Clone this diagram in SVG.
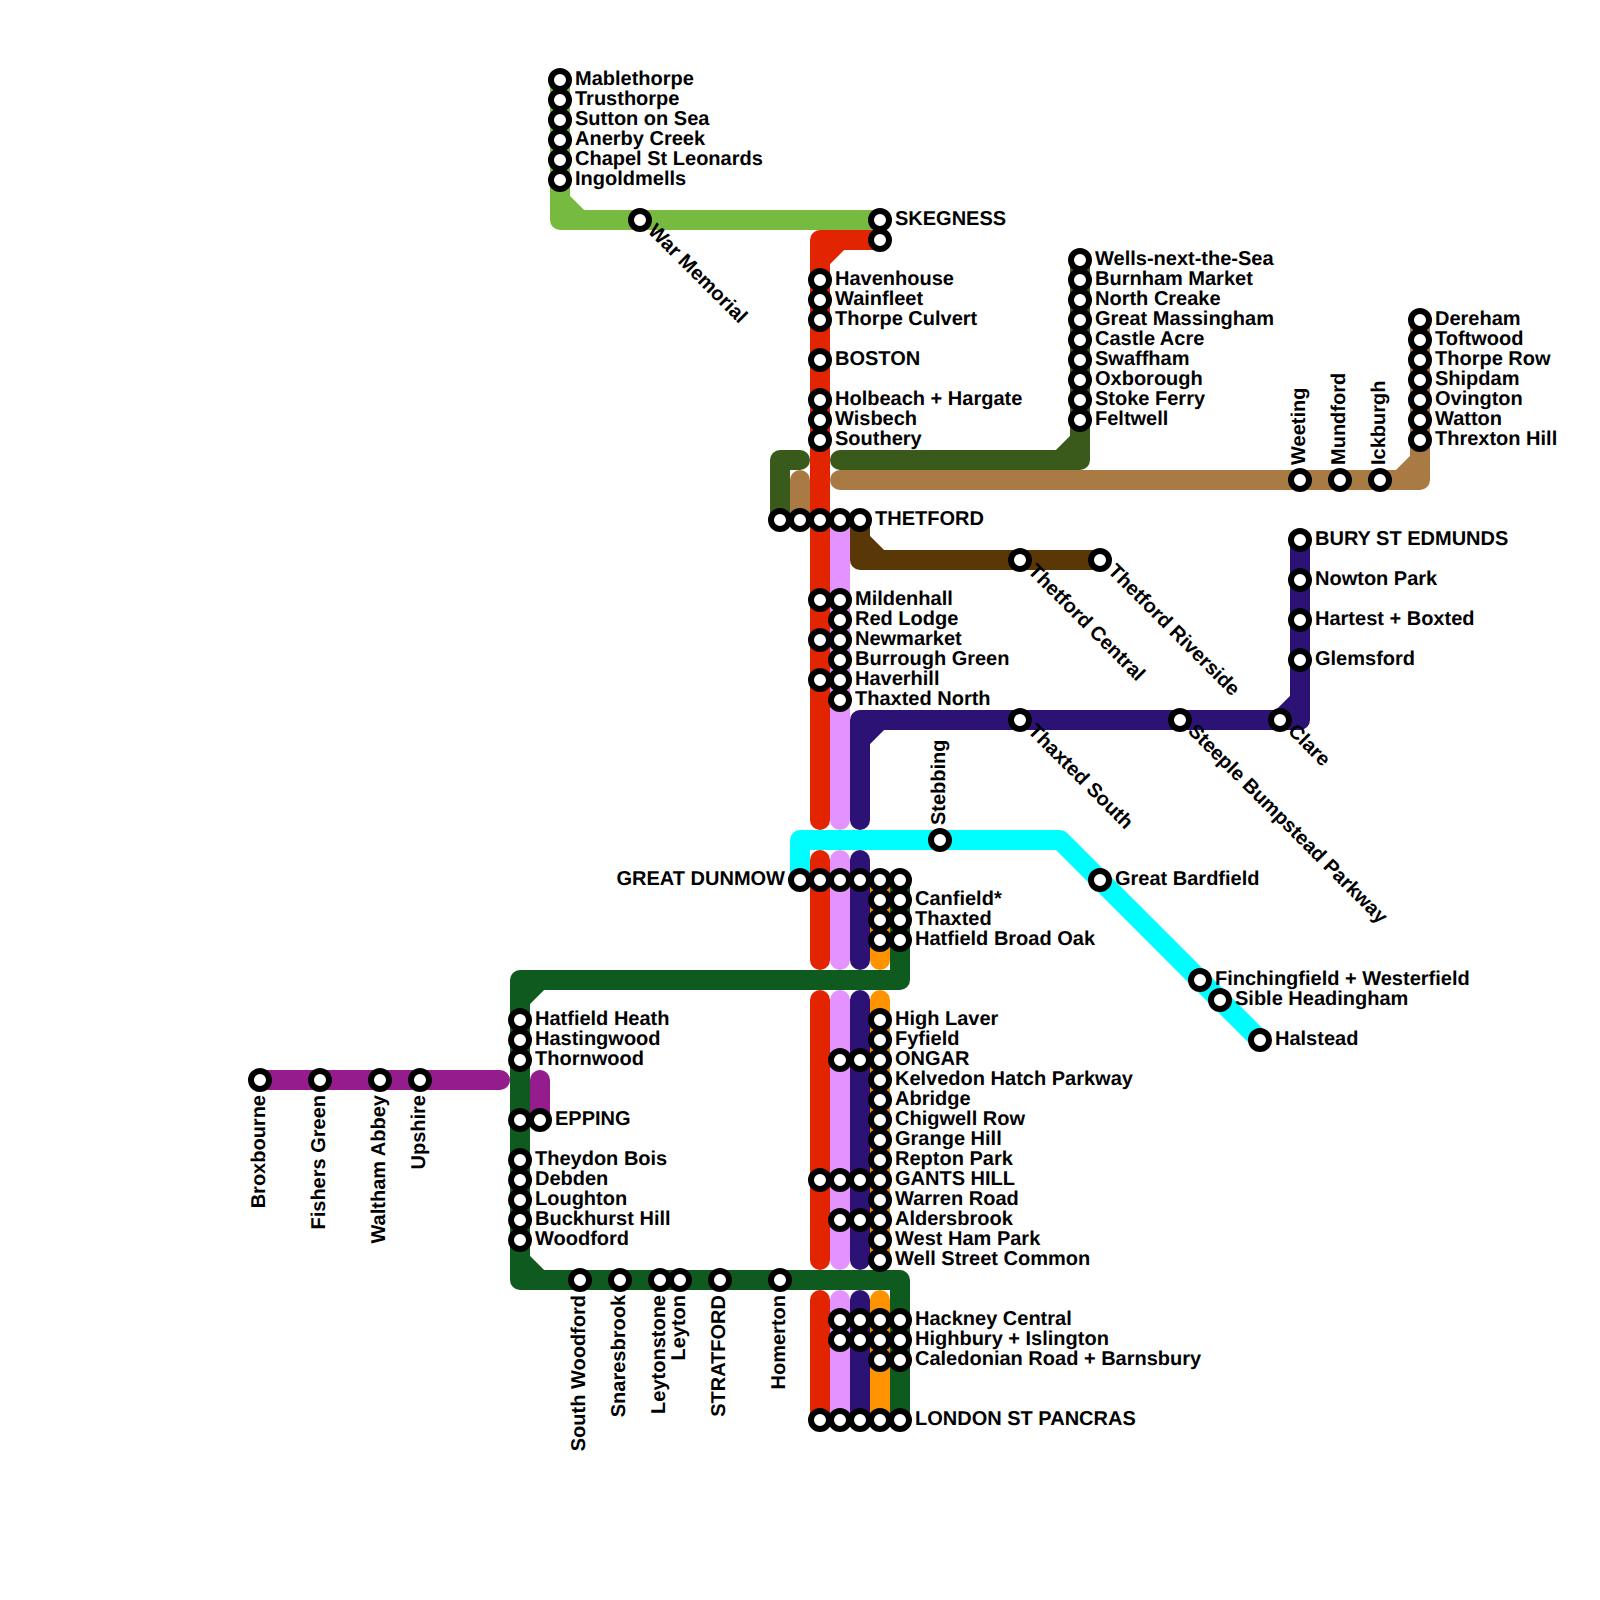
<svg xmlns="http://www.w3.org/2000/svg" width="1600" height="1600" viewBox="0 0 1600 1600">
<style>
.l{fill:none;stroke-width:20;stroke-linecap:round;stroke-linejoin:round}
.s{fill:#fff;stroke:#000;stroke-width:6}
text{font-family:"Liberation Sans",Arial,sans-serif;font-weight:700;font-size:20px;fill:#000;text-rendering:geometricPrecision}
.e{text-anchor:end}
</style>
<rect width="1600" height="1600" fill="#fff"/>
<g id="connectors">
<path class="l" stroke="#76bb40" d="M560 80V220H880M560 200L580 220"/>
<path class="l" stroke="#3a5a1c" d="M1080 260V460H840M1080 440L1060 460"/>
<path class="l" stroke="#3a5a1c" d="M780 520V460H800"/>
<path class="l" stroke="#a97a44" d="M840 480H1420V320M1420 460L1400 480"/>
<path class="l" stroke="#a97a44" d="M800 520V480"/>
<path class="l" stroke="#5a3706" d="M860 520V560H1100M860 540L880 560"/>
<path class="l" stroke="#e392fe" d="M840 520V820M840 860V960M840 1000V1260M840 1300V1420"/>
<path class="l" stroke="#e32400" d="M880 240H820V820M820 260L840 240M820 860V960M820 1000V1260M820 1300V1420"/>
<path class="l" stroke="#2c1275" d="M1300 540V720H860V820M1300 700L1280 720M860 740L880 720M860 860V960M860 1000V1260M860 1300V1420"/>
<path class="l" stroke="#ff9300" d="M880 880V960M880 1000V1260M880 1300V1420"/>
<path class="l" stroke="#0f5a1f" d="M900 880V980H520V1280H900V1420M520 1000L540 980M520 1260L540 1280"/>
<path class="l" stroke="#941c8d" d="M260 1080H500M540 1080V1120"/>
<path class="l" stroke="#00fdff" d="M800 880V840H1060L1260 1040"/>
</g>
<g id="nodes">
<g id="n1"><circle class="s" cx="560" cy="80" r="9"/><text x="575" y="85">Mablethorpe</text></g>
<g id="n2"><circle class="s" cx="560" cy="100" r="9"/><text x="575" y="105">Trusthorpe</text></g>
<g id="n3"><circle class="s" cx="560" cy="120" r="9"/><text x="575" y="125">Sutton on Sea</text></g>
<g id="n4"><circle class="s" cx="560" cy="140" r="9"/><text x="575" y="145">Anerby Creek</text></g>
<g id="n5"><circle class="s" cx="560" cy="160" r="9"/><text x="575" y="165">Chapel St Leonards</text></g>
<g id="n6"><circle class="s" cx="560" cy="180" r="9"/><text x="575" y="185">Ingoldmells</text></g>
<g id="n7"><circle class="s" cx="640" cy="220" r="9"/><text transform="translate(647 232) rotate(45)">War Memorial</text></g>
<g id="n8"><circle class="s" cx="880" cy="220" r="9"/><text x="895" y="225">SKEGNESS</text></g>
<g id="n9"><circle class="s" cx="880" cy="240" r="9"/></g>
<g id="n10"><circle class="s" cx="820" cy="280" r="9"/><text x="835" y="285">Havenhouse</text></g>
<g id="n11"><circle class="s" cx="820" cy="300" r="9"/><text x="835" y="305">Wainfleet</text></g>
<g id="n12"><circle class="s" cx="820" cy="320" r="9"/><text x="835" y="325">Thorpe Culvert</text></g>
<g id="n13"><circle class="s" cx="820" cy="360" r="9"/><text x="835" y="365">BOSTON</text></g>
<g id="n14"><circle class="s" cx="820" cy="400" r="9"/><text x="835" y="405">Holbeach + Hargate</text></g>
<g id="n15"><circle class="s" cx="820" cy="420" r="9"/><text x="835" y="425">Wisbech</text></g>
<g id="n16"><circle class="s" cx="820" cy="440" r="9"/><text x="835" y="445">Southery</text></g>
<g id="n17"><circle class="s" cx="1080" cy="260" r="9"/><text x="1095" y="265">Wells-next-the-Sea</text></g>
<g id="n18"><circle class="s" cx="1080" cy="280" r="9"/><text x="1095" y="285">Burnham Market</text></g>
<g id="n19"><circle class="s" cx="1080" cy="300" r="9"/><text x="1095" y="305">North Creake</text></g>
<g id="n20"><circle class="s" cx="1080" cy="320" r="9"/><text x="1095" y="325">Great Massingham</text></g>
<g id="n21"><circle class="s" cx="1080" cy="340" r="9"/><text x="1095" y="345">Castle Acre</text></g>
<g id="n22"><circle class="s" cx="1080" cy="360" r="9"/><text x="1095" y="365">Swaffham</text></g>
<g id="n23"><circle class="s" cx="1080" cy="380" r="9"/><text x="1095" y="385">Oxborough</text></g>
<g id="n24"><circle class="s" cx="1080" cy="400" r="9"/><text x="1095" y="405">Stoke Ferry</text></g>
<g id="n25"><circle class="s" cx="1080" cy="420" r="9"/><text x="1095" y="425">Feltwell</text></g>
<g id="n26"><circle class="s" cx="1420" cy="320" r="9"/><text x="1435" y="325">Dereham</text></g>
<g id="n27"><circle class="s" cx="1420" cy="340" r="9"/><text x="1435" y="345">Toftwood</text></g>
<g id="n28"><circle class="s" cx="1420" cy="360" r="9"/><text x="1435" y="365">Thorpe Row</text></g>
<g id="n29"><circle class="s" cx="1420" cy="380" r="9"/><text x="1435" y="385">Shipdam</text></g>
<g id="n30"><circle class="s" cx="1420" cy="400" r="9"/><text x="1435" y="405">Ovington</text></g>
<g id="n31"><circle class="s" cx="1420" cy="420" r="9"/><text x="1435" y="425">Watton</text></g>
<g id="n32"><circle class="s" cx="1420" cy="440" r="9"/><text x="1435" y="445">Threxton Hill</text></g>
<g id="n33"><circle class="s" cx="1300" cy="480" r="9"/><text transform="translate(1305 465) rotate(-90)">Weeting</text></g>
<g id="n34"><circle class="s" cx="1340" cy="480" r="9"/><text transform="translate(1345 465) rotate(-90)">Mundford</text></g>
<g id="n35"><circle class="s" cx="1380" cy="480" r="9"/><text transform="translate(1385 465) rotate(-90)">Ickburgh</text></g>
<g id="n36"><circle class="s" cx="780" cy="520" r="9"/></g>
<g id="n37"><circle class="s" cx="800" cy="520" r="9"/></g>
<g id="n38"><circle class="s" cx="820" cy="520" r="9"/></g>
<g id="n39"><circle class="s" cx="840" cy="520" r="9"/></g>
<g id="n40"><circle class="s" cx="860" cy="520" r="9"/><text x="875" y="525">THETFORD</text></g>
<g id="n41"><circle class="s" cx="1020" cy="560" r="9"/><text transform="translate(1027 572) rotate(45)">Thetford Central</text></g>
<g id="n42"><circle class="s" cx="1100" cy="560" r="9"/><text transform="translate(1107 572) rotate(45)">Thetford Riverside</text></g>
<g id="n43"><circle class="s" cx="1300" cy="540" r="9"/><text x="1315" y="545">BURY ST EDMUNDS</text></g>
<g id="n44"><circle class="s" cx="1300" cy="580" r="9"/><text x="1315" y="585">Nowton Park</text></g>
<g id="n45"><circle class="s" cx="1300" cy="620" r="9"/><text x="1315" y="625">Hartest + Boxted</text></g>
<g id="n46"><circle class="s" cx="1300" cy="660" r="9"/><text x="1315" y="665">Glemsford</text></g>
<g id="n47"><circle class="s" cx="820" cy="600" r="9"/></g>
<g id="n48"><circle class="s" cx="820" cy="640" r="9"/></g>
<g id="n49"><circle class="s" cx="820" cy="680" r="9"/></g>
<g id="n50"><circle class="s" cx="840" cy="600" r="9"/><text x="855" y="605">Mildenhall</text></g>
<g id="n51"><circle class="s" cx="840" cy="620" r="9"/><text x="855" y="625">Red Lodge</text></g>
<g id="n52"><circle class="s" cx="840" cy="640" r="9"/><text x="855" y="645">Newmarket</text></g>
<g id="n53"><circle class="s" cx="840" cy="660" r="9"/><text x="855" y="665">Burrough Green</text></g>
<g id="n54"><circle class="s" cx="840" cy="680" r="9"/><text x="855" y="685">Haverhill</text></g>
<g id="n55"><circle class="s" cx="840" cy="700" r="9"/><text x="855" y="705">Thaxted North</text></g>
<g id="n56"><circle class="s" cx="1020" cy="720" r="9"/><text transform="translate(1027 732) rotate(45)">Thaxted South</text></g>
<g id="n57"><circle class="s" cx="1180" cy="720" r="9"/><text transform="translate(1187 732) rotate(45)">Steeple Bumpstead Parkway</text></g>
<g id="n58"><circle class="s" cx="1280" cy="720" r="9"/><text transform="translate(1287 732) rotate(45)">Clare</text></g>
<g id="n59"><circle class="s" cx="940" cy="840" r="9"/><text transform="translate(945 825) rotate(-90)">Stebbing</text></g>
<g id="n60"><circle class="s" cx="800" cy="880" r="9"/><text class="e" x="785" y="885">GREAT DUNMOW</text></g>
<g id="n61"><circle class="s" cx="820" cy="880" r="9"/></g>
<g id="n62"><circle class="s" cx="840" cy="880" r="9"/></g>
<g id="n63"><circle class="s" cx="860" cy="880" r="9"/></g>
<g id="n64"><circle class="s" cx="880" cy="880" r="9"/></g>
<g id="n65"><circle class="s" cx="900" cy="880" r="9"/></g>
<g id="n66"><circle class="s" cx="880" cy="900" r="9"/></g>
<g id="n67"><circle class="s" cx="900" cy="900" r="9"/><text x="915" y="905">Canfield*</text></g>
<g id="n68"><circle class="s" cx="880" cy="920" r="9"/></g>
<g id="n69"><circle class="s" cx="900" cy="920" r="9"/><text x="915" y="925">Thaxted</text></g>
<g id="n70"><circle class="s" cx="880" cy="940" r="9"/></g>
<g id="n71"><circle class="s" cx="900" cy="940" r="9"/><text x="915" y="945">Hatfield Broad Oak</text></g>
<g id="n72"><circle class="s" cx="1100" cy="880" r="9"/><text x="1115" y="885">Great Bardfield</text></g>
<g id="n73"><circle class="s" cx="1200" cy="980" r="9"/><text x="1215" y="985">Finchingfield + Westerfield</text></g>
<g id="n74"><circle class="s" cx="1220" cy="1000" r="9"/><text x="1235" y="1005">Sible Headingham</text></g>
<g id="n75"><circle class="s" cx="1260" cy="1040" r="9"/><text x="1275" y="1045">Halstead</text></g>
<g id="n76"><circle class="s" cx="520" cy="1020" r="9"/><text x="535" y="1025">Hatfield Heath</text></g>
<g id="n77"><circle class="s" cx="520" cy="1040" r="9"/><text x="535" y="1045">Hastingwood</text></g>
<g id="n78"><circle class="s" cx="520" cy="1060" r="9"/><text x="535" y="1065">Thornwood</text></g>
<g id="n79"><circle class="s" cx="520" cy="1120" r="9"/></g>
<g id="n80"><circle class="s" cx="540" cy="1120" r="9"/><text x="555" y="1125">EPPING</text></g>
<g id="n81"><circle class="s" cx="520" cy="1160" r="9"/><text x="535" y="1165">Theydon Bois</text></g>
<g id="n82"><circle class="s" cx="520" cy="1180" r="9"/><text x="535" y="1185">Debden</text></g>
<g id="n83"><circle class="s" cx="520" cy="1200" r="9"/><text x="535" y="1205">Loughton</text></g>
<g id="n84"><circle class="s" cx="520" cy="1220" r="9"/><text x="535" y="1225">Buckhurst Hill</text></g>
<g id="n85"><circle class="s" cx="520" cy="1240" r="9"/><text x="535" y="1245">Woodford</text></g>
<g id="n86"><circle class="s" cx="260" cy="1080" r="9"/><text class="e" transform="translate(265 1095) rotate(-90)">Broxbourne</text></g>
<g id="n87"><circle class="s" cx="320" cy="1080" r="9"/><text class="e" transform="translate(325 1095) rotate(-90)">Fishers Green</text></g>
<g id="n88"><circle class="s" cx="380" cy="1080" r="9"/><text class="e" transform="translate(385 1095) rotate(-90)">Waltham Abbey</text></g>
<g id="n89"><circle class="s" cx="420" cy="1080" r="9"/><text class="e" transform="translate(425 1095) rotate(-90)">Upshire</text></g>
<g id="n90"><circle class="s" cx="880" cy="1020" r="9"/><text x="895" y="1025">High Laver</text></g>
<g id="n91"><circle class="s" cx="880" cy="1040" r="9"/><text x="895" y="1045">Fyfield</text></g>
<g id="n92"><circle class="s" cx="840" cy="1060" r="9"/></g>
<g id="n93"><circle class="s" cx="860" cy="1060" r="9"/></g>
<g id="n94"><circle class="s" cx="880" cy="1060" r="9"/><text x="895" y="1065">ONGAR</text></g>
<g id="n95"><circle class="s" cx="880" cy="1080" r="9"/><text x="895" y="1085">Kelvedon Hatch Parkway</text></g>
<g id="n96"><circle class="s" cx="880" cy="1100" r="9"/><text x="895" y="1105">Abridge</text></g>
<g id="n97"><circle class="s" cx="880" cy="1120" r="9"/><text x="895" y="1125">Chigwell Row</text></g>
<g id="n98"><circle class="s" cx="880" cy="1140" r="9"/><text x="895" y="1145">Grange Hill</text></g>
<g id="n99"><circle class="s" cx="880" cy="1160" r="9"/><text x="895" y="1165">Repton Park</text></g>
<g id="n100"><circle class="s" cx="820" cy="1180" r="9"/></g>
<g id="n101"><circle class="s" cx="840" cy="1180" r="9"/></g>
<g id="n102"><circle class="s" cx="860" cy="1180" r="9"/></g>
<g id="n103"><circle class="s" cx="880" cy="1180" r="9"/><text x="895" y="1185">GANTS HILL</text></g>
<g id="n104"><circle class="s" cx="880" cy="1200" r="9"/><text x="895" y="1205">Warren Road</text></g>
<g id="n105"><circle class="s" cx="840" cy="1220" r="9"/></g>
<g id="n106"><circle class="s" cx="860" cy="1220" r="9"/></g>
<g id="n107"><circle class="s" cx="880" cy="1220" r="9"/><text x="895" y="1225">Aldersbrook</text></g>
<g id="n108"><circle class="s" cx="880" cy="1240" r="9"/><text x="895" y="1245">West Ham Park</text></g>
<g id="n109"><circle class="s" cx="880" cy="1260" r="9"/><text x="895" y="1265">Well Street Common</text></g>
<g id="n110"><circle class="s" cx="580" cy="1280" r="9"/><text class="e" transform="translate(585 1295) rotate(-90)">South Woodford</text></g>
<g id="n111"><circle class="s" cx="620" cy="1280" r="9"/><text class="e" transform="translate(625 1295) rotate(-90)">Snaresbrook</text></g>
<g id="n112"><circle class="s" cx="660" cy="1280" r="9"/><text class="e" transform="translate(665 1295) rotate(-90)">Leytonstone</text></g>
<g id="n113"><circle class="s" cx="680" cy="1280" r="9"/><text class="e" transform="translate(685 1295) rotate(-90)">Leyton</text></g>
<g id="n114"><circle class="s" cx="720" cy="1280" r="9"/><text class="e" transform="translate(725 1295) rotate(-90)">STRATFORD</text></g>
<g id="n115"><circle class="s" cx="780" cy="1280" r="9"/><text class="e" transform="translate(785 1295) rotate(-90)">Homerton</text></g>
<g id="n116"><circle class="s" cx="840" cy="1320" r="9"/></g>
<g id="n117"><circle class="s" cx="860" cy="1320" r="9"/></g>
<g id="n118"><circle class="s" cx="880" cy="1320" r="9"/></g>
<g id="n119"><circle class="s" cx="900" cy="1320" r="9"/><text x="915" y="1325">Hackney Central</text></g>
<g id="n120"><circle class="s" cx="840" cy="1340" r="9"/></g>
<g id="n121"><circle class="s" cx="860" cy="1340" r="9"/></g>
<g id="n122"><circle class="s" cx="880" cy="1340" r="9"/></g>
<g id="n123"><circle class="s" cx="900" cy="1340" r="9"/><text x="915" y="1345">Highbury + Islington</text></g>
<g id="n124"><circle class="s" cx="880" cy="1360" r="9"/></g>
<g id="n125"><circle class="s" cx="900" cy="1360" r="9"/><text x="915" y="1365">Caledonian Road + Barnsbury</text></g>
<g id="n126"><circle class="s" cx="820" cy="1420" r="9"/></g>
<g id="n127"><circle class="s" cx="840" cy="1420" r="9"/></g>
<g id="n128"><circle class="s" cx="860" cy="1420" r="9"/></g>
<g id="n129"><circle class="s" cx="880" cy="1420" r="9"/></g>
<g id="n130"><circle class="s" cx="900" cy="1420" r="9"/><text x="915" y="1425">LONDON ST PANCRAS</text></g>
</g>
</svg>
